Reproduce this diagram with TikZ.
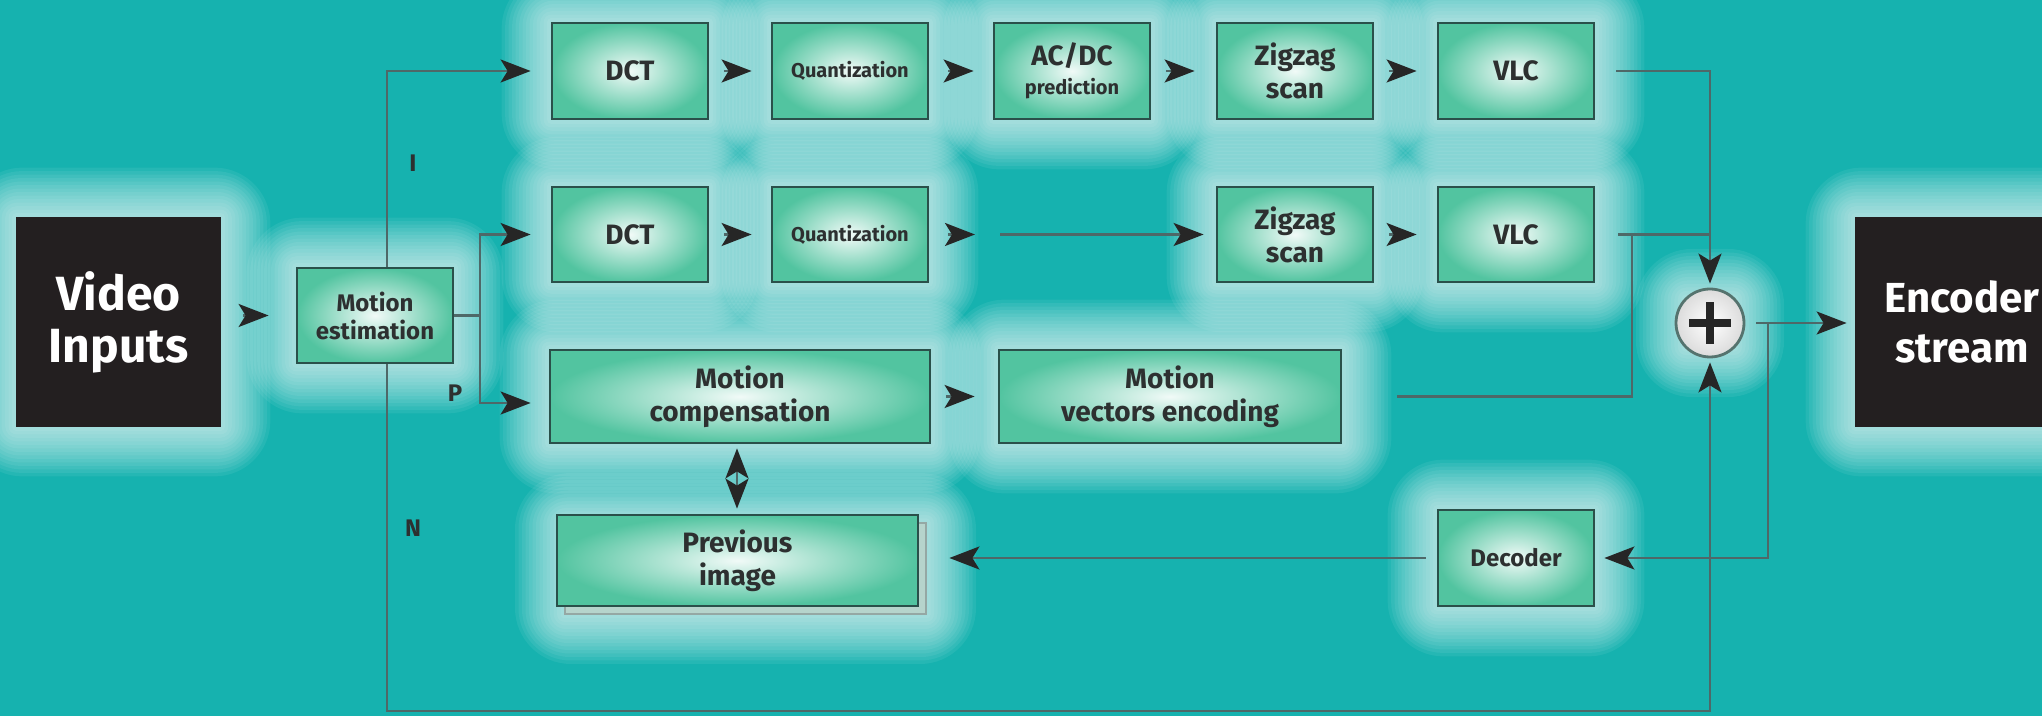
\documentclass[tikz,border=0pt]{standalone}
\usepackage{fontspec}
\setmainfont{Fira Sans}
\usetikzlibrary{arrows.meta,calc}
\pgfdeclarelayer{bg}
\pgfsetlayers{bg,main}
\definecolor{teal0}{RGB}{22,178,175}
\definecolor{mint}{RGB}{82,196,160}
\definecolor{edgec}{RGB}{42,80,74}
\definecolor{wirec}{RGB}{78,104,104}
\definecolor{ink}{RGB}{45,48,48}
\definecolor{blk}{RGB}{35,31,32}
\newcommand\myglow[1]{%
  \foreach \k in {1,...,14}{%
    \fill[white,opacity=0.065,rounded corners=\k*2pt]
      ($(#1.north west)+(-\k*3.5,-\k*3.5)$) rectangle ($(#1.south east)+(\k*3.5,\k*3.5)$);}}
\begin{document}
\begin{tikzpicture}[x=0.5pt,y=-0.5pt,
  proc/.style={draw=edgec, line width=1.4pt, shade, inner color=white!92!mint, outer color=mint,
    align=center, text=ink, font=\bfseries\fontsize{14}{16.5}\selectfont, inner sep=0pt},
  bigbox/.style={fill=blk, text=white, font=\bfseries\fontsize{24}{26}\selectfont, align=center, inner sep=0pt},
  wire/.style={draw=wirec, line width=1.2pt},
  arr/.style={wire, -{Stealth[length=15pt,width=11.5pt,inset=3.5pt,color=black!85]}},
  lbl/.style={text=ink, font=\bfseries\fontsize{12}{14}\selectfont, inner sep=0pt},
  col/.style={minimum width=78pt},
  r1/.style={minimum height=48pt},
  r2/.style={minimum height=47.5pt}]
\useasboundingbox (0,0) rectangle (2042,716);

% end boxes
\node[bigbox, minimum width=102.5pt, minimum height=105pt] (vid) at (118.5,322) {Video\\Inputs};
\node[bigbox, font=\bfseries\fontsize{21}{25}\selectfont, minimum width=107pt, minimum height=105pt] (enc) at (1962,322) {Encoder\\stream};
\node[proc, font=\bfseries\fontsize{12}{14}\selectfont, minimum width=78pt, minimum height=47.5pt] (me) at (375,315.5) {Motion\\estimation};

% row 1
\node[proc,col,r1] (dct1) at (630,71) {DCT};
\node[proc,col,r1,font=\bfseries\fontsize{10}{12}\selectfont] (q1) at (850,71) {Quantization};
\node[proc,col,r1] (ac1) at (1072,71) {AC/DC\\[-2pt]{\fontsize{10}{12}\selectfont prediction}};
\node[proc,col,r1] (z1) at (1295,71) {Zigzag\\scan};
\node[proc,col,r1] (v1) at (1516,71) {VLC};
% row 2
\node[proc,col,r2] (dct2) at (630,234.5) {DCT};
\node[proc,col,r2,font=\bfseries\fontsize{10}{12}\selectfont] (q2) at (850,234.5) {Quantization};
\node[proc,col,r2] (z2) at (1295,234.5) {Zigzag\\scan};
\node[proc,col,r2] (v2) at (1516,234.5) {VLC};
% row 3
\node[proc, minimum width=190pt, minimum height=46.5pt] (mc) at (740,396.5) {Motion\\compensation};
\node[proc, minimum width=171pt, minimum height=46.5pt] (mv) at (1170,396.5) {Motion\\vectors encoding};
% row 4
\node[draw=edgec!50, line width=1pt, fill={rgb,255:red,182;green,212;blue,204}, minimum width=180.5pt, minimum height=45.5pt] (prevsh) at (745.5,568.5) {};
\node[proc, minimum width=180.5pt, minimum height=45.5pt] (prev) at (737.5,560.5) {Previous\\image};
\node[proc, font=\bfseries\fontsize{12}{14}\selectfont, col, minimum height=48pt] (dec) at (1516,558) {Decoder};

% adder
\node[circle, minimum size=34pt, inner sep=0pt, draw=edgec!80, line width=1.4pt, shade, inner color=white, outer color=white!72!gray,
  path picture={
    \draw[line width=4pt, black!85] ([xshift=-10.5pt]path picture bounding box.center) -- ([xshift=10.5pt]path picture bounding box.center);
    \draw[line width=4pt, black!85] ([yshift=-10.5pt]path picture bounding box.center) -- ([yshift=10.5pt]path picture bounding box.center);
  }] (plus) at (1710,323) {};

% labels
\node[lbl] (lI) at (413,163) {I};
\node[lbl] (lP) at (455,393) {P};
\node[lbl] (lN) at (413,528) {N};

% coordinates
\coordinate (iTop) at (387,71);
\coordinate (pTop) at (480,235);
\coordinate (pBot) at (480,403);
\coordinate (q2s) at (975,234.5);
\coordinate (z2s) at (1000,234.5);
\coordinate (mid) at (737,478.5);
\coordinate (j1) at (1710,71);
\coordinate (mvc) at (1632,396.5);
\coordinate (fb) at (1768,323);
\coordinate (nCorner) at (1710,711);

% connectors
\draw[arr, shorten <=11pt, shorten >=13.5pt] (me.west -| vid.east) -- (me.west);
\draw[arr, shorten >=10pt] (me.north -| iTop) |- (dct1.west);
\draw[arr, shorten >=2pt] (me.south -| iTop) |- (nCorner) -- (plus.south);
\draw[wire] (me.east) -- (me.east -| pTop);
\draw[arr, shorten >=10pt] (me.east -| pTop) |- (dct2.west);
\draw[arr, shorten >=9pt] (me.east -| pTop) |- (mc.west |- pBot);

\draw[arr, shorten <=7.5pt, shorten >=9.5pt] (dct1) -- (q1);
\draw[arr, shorten <=9.5pt, shorten >=9.5pt] (q1) -- (ac1);
\draw[arr, shorten <=7.5pt, shorten >=10.5pt] (ac1) -- (z1);
\draw[arr, shorten <=7.5pt, shorten >=10pt] (z1) -- (v1);

\draw[arr, shorten <=7.5pt, shorten >=9.5pt] (dct2) -- (q2);
\draw[arr, shorten <=9.5pt] (q2) -- (q2s);
\draw[arr, shorten >=6pt] (z2s) -- (z2);
\draw[arr, shorten <=7.5pt, shorten >=10pt] (z2) -- (v2);

\draw[arr, shorten <=7.5pt, shorten >=11.5pt] (mc) -- (mv);
\draw[arr, shorten >=2pt] (mid) -- (mid |- mc.south);
\draw[arr, shorten >=2.5pt] (mid) -- (mid |- prev.north);

\draw[arr, shorten <=10.5pt, shorten >=2pt] (v1.east) -- (j1) -- (plus.north);
\draw[wire, shorten <=11.5pt] (v2.east) -- (j1 |- v2.east);
\draw[wire, shorten <=27.5pt] (mv.east) -- (mvc) -- (mvc |- v2.east);
\draw[arr, shorten <=5.5pt, shorten >=4pt] (plus.east) -- (plus.east -| enc.west);
\draw[arr, shorten >=4.5pt] (fb) |- (dec.east);
\draw[arr, shorten <=5.5pt, shorten >=15pt] (dec.west) -- (dec.west -| prev.east);

% background and glows
\begin{pgfonlayer}{bg}
\fill[teal0] (0,0) rectangle (2042,716);
\foreach \n in {vid,enc,me,dct1,q1,ac1,z1,v1,dct2,q2,z2,v2,mc,mv,prevsh,dec,plus}{\myglow{\n}}
\end{pgfonlayer}
\end{tikzpicture}
\end{document}
